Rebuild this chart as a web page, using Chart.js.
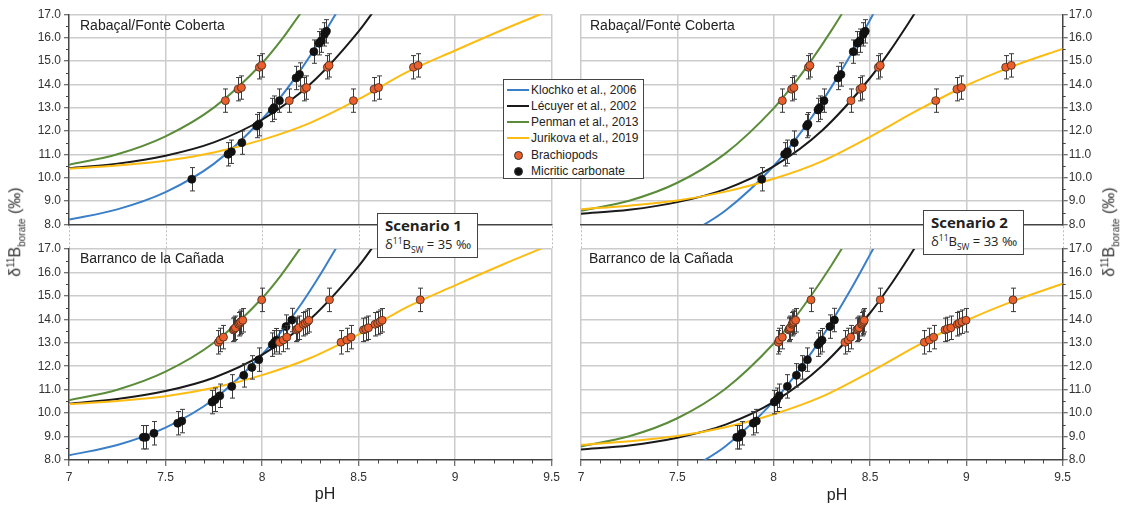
<!DOCTYPE html>
<html>
<head>
<meta charset="utf-8">
<script src="https://cdn.jsdelivr.net/npm/chart.js@4.4.1/dist/chart.umd.min.js"></script>
<style>
  body { margin: 0; width: 1125px; height: 507px; background: #fff; position: relative; overflow: hidden;
         font-family: "Liberation Sans", Arial, sans-serif; color: #222; }
  canvas { position: absolute; }
  .ptitle { position: absolute; font-size: 14px; line-height: 16px; color: #222; white-space: nowrap; }
  .axtitle { position: absolute; font-size: 16px; white-space: nowrap; color: #333; transform: translate(-50%, -50%) rotate(-90deg); }
  .axtitle sup, .axtitle sub { font-size: 10px; }
  .ph { position: absolute; font-size: 16px; transform: translateX(-50%); color: #222; }
  #legend { position: absolute; left: 503px; top: 79px; width: 139px; height: 98px; background: #fff; border: 1px solid #444; }
  .lrow { position: absolute; left: 0; height: 16px; width: 100%; font-size: 12px; line-height: 16px; }
  .lrow span { position: absolute; left: 27px; top: 0; white-space: nowrap; }
  .swatch { position: absolute; left: 3px; top: 7px; width: 22px; height: 2px; }
  .dot { position: absolute; left: 10px; top: 4px; width: 7px; height: 7px; border-radius: 50%; border: 0.8px solid #333; }
  .scen { position: absolute; width: 99px; height: 43px; background: #fff; border: 1px solid #444;
          font-family: "Open Sans", "Noto Sans", sans-serif; color: #222; }
  .scen b { position: absolute; left: 7px; top: 1px; font-size: 15px; white-space: nowrap; }
  .scen div { position: absolute; left: 7px; top: 21px; font-size: 13px; white-space: nowrap; }
  .scen sup, .scen sub { font-size: 8.5px; }
</style>
</head>
<body>
<canvas id="tl" width="565" height="250" style="left:0;top:0"></canvas>
<canvas id="bl" width="565" height="271" style="left:0;top:236px"></canvas>
<canvas id="tr" width="560" height="250" style="left:565px;top:0"></canvas>
<canvas id="br" width="560" height="271" style="left:565px;top:236px"></canvas>

<div class="ptitle" style="left:80px;top:17px">Rabaçal/Fonte Coberta</div>
<div class="ptitle" style="left:80px;top:250px">Barranco de la Cañada</div>
<div class="ptitle" style="left:590px;top:17px">Rabaçal/Fonte Coberta</div>
<div class="ptitle" style="left:589px;top:250px">Barranco de la Cañada</div>

<div class="axtitle" style="left:16px;top:232px">δ<sup>11</sup>B<sub>borate</sub> (‰)</div>
<div class="axtitle" style="left:1110px;top:232px">δ<sup>11</sup>B<sub>borate</sub> (‰)</div>
<div class="ph" style="left:325px;top:485px">pH</div>
<div class="ph" style="left:837px;top:486px">pH</div>

<div id="legend">
  <div class="lrow" style="top:2px"><div class="swatch" style="background:#3a7fc8"></div><span>Klochko et al., 2006</span></div>
  <div class="lrow" style="top:18px"><div class="swatch" style="background:#1a1a1a"></div><span>Lécuyer et al., 2002</span></div>
  <div class="lrow" style="top:34px"><div class="swatch" style="background:#5b8c3a"></div><span>Penman et al., 2013</span></div>
  <div class="lrow" style="top:50px"><div class="swatch" style="background:#fdbc12"></div><span>Jurikova et al., 2019</span></div>
  <div class="lrow" style="top:67px"><div class="dot" style="background:#ea5f2b"></div><span>Brachiopods</span></div>
  <div class="lrow" style="top:83px"><div class="dot" style="background:#111"></div><span>Micritic carbonate</span></div>
</div>

<div class="scen" style="left:377px;top:213px"><b>Scenario 1</b><div>δ<sup>11</sup>B<sub>SW</sub> = 35 ‰</div></div>
<div class="scen" style="left:923px;top:210px"><b>Scenario 2</b><div>δ<sup>11</sup>B<sub>SW</sub> = 33 ‰</div></div>

<script>
// tick labels
const xTickLabels = ['7', '7.5', '8', '8.5', '9', '9.5'];
const yTickLabels = ['8.0', '9.0', '10.0', '11.0', '12.0', '13.0', '14.0', '15.0', '16.0', '17.0'];
const ERR = 0.5; // error bar half length (permil)

// measured d11B of the samples
const rabBrachD11B = [13.30, 13.79, 13.86, 14.73, 14.81];
const rabMicD11B = [9.93, 11.00, 11.11, 11.50, 12.21, 12.29, 12.90, 13.00, 13.30, 14.27, 14.42, 15.40, 15.76, 15.87, 16.14, 16.27];
const barBrachD11B = [13.02, 13.12, 13.24, 13.55, 13.59, 13.64, 13.79, 13.84, 13.90, 13.96, 14.83];
const barMicD11B = [8.97, 8.97, 9.14, 9.57, 9.66, 10.47, 10.57, 10.74, 11.14, 11.61, 11.95, 12.28, 12.92, 13.02, 13.11, 13.69, 13.97];

// pH of the samples, scenario 1 (d11Bsw = 35)
const rabBrachPenmanS1 = [7.81, 7.876, 7.893, 7.986, 7.998];
const rabBrachLecuyerS1 = [8.141, 8.218, 8.23, 8.338, 8.347];
const rabBrachJurikovaS1 = [8.473, 8.58, 8.603, 8.784, 8.808];
const rabMicKlochkoS1 = [7.636, 7.824, 7.841, 7.895, 7.972, 7.983, 8.053, 8.062, 8.09, 8.176, 8.194, 8.268, 8.295, 8.307, 8.323, 8.333];
const barBrachPenmanS1 = [7.774, 7.782, 7.80, 7.851, 7.856, 7.862, 7.879, 7.884, 7.89, 7.90, 7.998];
const barBrachLecuyerS1 = [8.09, 8.11, 8.128, 8.176, 8.183, 8.19, 8.214, 8.224, 8.235, 8.242, 8.349];
const barBrachJurikovaS1 = [8.409, 8.439, 8.461, 8.525, 8.537, 8.551, 8.585, 8.599, 8.611, 8.622, 8.819];
const barMicKlochkoS1 = [7.385, 7.397, 7.44, 7.563, 7.584, 7.741, 7.756, 7.781, 7.843, 7.905, 7.947, 7.983, 8.053, 8.064, 8.074, 8.124, 8.154];

// pH of the samples, scenario 2 (d11Bsw = 33)
const rabBrachPenmanS2 = [8.045, 8.093, 8.105, 8.18, 8.188];
const rabBrachLecuyerS2 = [8.401, 8.448, 8.46, 8.543, 8.553];
const rabBrachJurikovaS2 = [8.841, 8.951, 8.974, 9.204, 9.233];
const rabMicKlochkoS2 = [7.938, 8.057, 8.071, 8.107, 8.171, 8.178, 8.23, 8.239, 8.261, 8.334, 8.349, 8.413, 8.435, 8.448, 8.465, 8.475];
const barBrachPenmanS2 = [8.024, 8.029, 8.045, 8.078, 8.081, 8.086, 8.095, 8.10, 8.104, 8.114, 8.194];
const barBrachLecuyerS2 = [8.37, 8.387, 8.40, 8.431, 8.437, 8.443, 8.457, 8.461, 8.466, 8.47, 8.553];
const barBrachJurikovaS2 = [8.782, 8.808, 8.83, 8.889, 8.901, 8.92, 8.953, 8.963, 8.977, 8.998, 9.242];
const barMicKlochkoS2 = [7.808, 7.82, 7.835, 7.894, 7.91, 8.003, 8.016, 8.029, 8.071, 8.118, 8.147, 8.175, 8.23, 8.24, 8.251, 8.292, 8.315];

// calibration curves, scenario 1
const klochkoS1pH = [7, 7.25, 7.5, 7.75, 8, 8.1, 8.2, 8.3, 8.4];
const klochkoS1 = [8.2, 8.64, 9.38, 10.59, 12.5, 13.49, 14.62, 15.89, 17.27];
const lecuyerS1pH = [7, 7.25, 7.5, 7.75, 8, 8.25, 8.5, 8.6];
const lecuyerS1 = [10.4, 10.6, 10.94, 11.51, 12.48, 14.01, 16.27, 17.39];
const penmanS1pH = [7, 7.25, 7.5, 7.75, 8, 8.1, 8.2, 8.25];
const penmanS1 = [10.55, 11.0, 11.77, 13.0, 14.9, 15.9, 17.05, 17.6];
const jurikovaS1pH = [7, 7.25, 7.5, 7.75, 8, 8.25, 8.5, 8.75, 9, 9.25, 9.5];
const jurikovaS1 = [10.38, 10.52, 10.72, 11.08, 11.62, 12.35, 13.36, 14.52, 15.45, 16.35, 17.2];

// calibration curves, scenario 2
const klochkoS2pH = [7.5, 7.6, 7.75, 8, 8.1, 8.2, 8.3, 8.4, 8.5, 8.55];
const klochkoS2 = [7.38, 7.8, 8.59, 10.5, 11.49, 12.62, 13.89, 15.27, 16.76, 17.52];
const lecuyerS2pH = [7, 7.25, 7.5, 7.75, 8, 8.25, 8.5, 8.6, 8.7, 8.75];
const lecuyerS2 = [8.45, 8.62, 8.95, 9.51, 10.48, 12.01, 14.27, 15.39, 16.63, 17.28];
const penmanS2pH = [7, 7.25, 7.5, 7.75, 8, 8.1, 8.2, 8.3, 8.4];
const penmanS2 = [8.58, 9.01, 9.78, 11.04, 12.97, 13.96, 15.08, 16.31, 17.64];
const jurikovaS2pH = [7, 7.25, 7.5, 7.75, 8, 8.25, 8.5, 8.75, 9, 9.25, 9.5];
const jurikovaS2 = [8.65, 8.8, 9.02, 9.4, 9.95, 10.7, 11.75, 12.9, 13.95, 14.8, 15.52];

const BLUE = '#3a7fc8', BLACK = '#1a1a1a', GREEN = '#5b8c3a', YELLOW = '#fdbc12';
const ORANGE = '#ea5f2b';
const FONT = { family: '"Liberation Sans", Arial, sans-serif', size: 12 };

function pts (xs, ys) {
  return xs.map((x, i) => ({ x: x, y: ys[i] }));
}

function curve (xs, ys, color) {
  return { type: 'line', data: pts(xs, ys), borderColor: color, borderWidth: 2, pointRadius: 0,
    fill: false, cubicInterpolationMode: 'monotone', order: 2 };
}

function samples (xs, ys, fill, border) {
  return { type: 'scatter', data: pts(xs, ys), backgroundColor: fill, borderColor: border,
    borderWidth: 0.8, pointRadius: 4, order: 1, errorBar: ERR };
}

// error bars, minor ticks and the dotted gridlines between the panels
const panelExtras = {
  id: 'panelExtras',
  beforeDatasetDraw (chart, args) {
    const ds = chart.data.datasets[args.index];
    if (!ds.errorBar) return;
    const ctx = chart.ctx;
    const xs = chart.scales.x;
    const ys = chart.scales.y;
    ctx.save();
    ctx.strokeStyle = '#3a3a3a';
    ctx.lineWidth = 1;
    ds.data.forEach(p => {
      const px = Math.round(xs.getPixelForValue(p.x)) + 0.5;
      const top = ys.getPixelForValue(p.y + ds.errorBar);
      const bot = ys.getPixelForValue(p.y - ds.errorBar);
      ctx.beginPath();
      ctx.moveTo(px, top); ctx.lineTo(px, bot);
      ctx.moveTo(px - 2.5, top); ctx.lineTo(px + 2.5, top);
      ctx.moveTo(px - 2.5, bot); ctx.lineTo(px + 2.5, bot);
      ctx.stroke();
    });
    ctx.restore();
  },
  afterDraw (chart, args, opts) {
    const ctx = chart.ctx;
    const a = chart.chartArea;
    const xs = chart.scales.x;
    const ys = chart.scales.y;
    ctx.save();
    ctx.strokeStyle = '#444';
    ctx.lineWidth = 1;
    // y minor ticks at half units
    for (let v = 8.5; v < 17; v += 1) {
      const py = Math.round(ys.getPixelForValue(v)) + 0.5;
      ctx.beginPath();
      if (opts.side === 'left') {
        ctx.moveTo(a.left, py); ctx.lineTo(a.left - 3, py);
      } else {
        ctx.moveTo(a.right, py); ctx.lineTo(a.right + 3, py);
      }
      ctx.stroke();
    }
    if (opts.showX) {
      // x minor ticks every 0.1
      for (let i = 1; i < 25; i++) {
        if (i % 5 === 0) continue;
        const px = Math.round(xs.getPixelForValue(7 + i / 10)) + 0.5;
        ctx.beginPath();
        ctx.moveTo(px, a.bottom); ctx.lineTo(px, a.bottom + 3.5);
        ctx.stroke();
      }
    } else {
      // dotted gridlines in the gap under the upper panels
      ctx.strokeStyle = '#bdbdbd';
      ctx.setLineDash([2, 2]);
      [7, 7.5, 8, 8.5, 9, 9.5].forEach(v => {
        const px = Math.round(xs.getPixelForValue(v)) + 0.5;
        ctx.beginPath();
        ctx.moveTo(px, a.bottom + 2); ctx.lineTo(px, a.bottom + 24);
        ctx.stroke();
      });
    }
    ctx.restore();
  }
};

function makePanel (id, side, showX, datasets, pad, yWidth, xHeight) {
  const gridCol = '#cccccc';
  return new Chart(document.getElementById(id), {
    type: 'scatter',
    data: { datasets: datasets },
    options: {
      responsive: false,
      animation: false,
      events: [],
      layout: { padding: pad },
      plugins: {
        legend: { display: false },
        tooltip: { enabled: false },
        panelExtras: { side: side, showX: showX }
      },
      scales: {
        x: {
          type: 'linear',
          min: 7,
          max: 9.5,
          afterFit: s => { s.height = xHeight; },
          ticks: {
            display: showX,
            stepSize: 0.5,
            autoSkip: false,
            maxRotation: 0,
            padding: 4,
            color: '#333',
            font: FONT,
            callback: (v, i) => xTickLabels[i]
          },
          grid: {
            color: c => {
              const v = c.tick ? c.tick.value : null;
              if (side === 'left' && v === 7) return 'rgba(0,0,0,0)';
              if (side === 'right' && v === 9.5) return 'rgba(0,0,0,0)';
              return gridCol;
            },
            lineWidth: 1.5,
            drawTicks: showX,
            tickLength: 6,
            tickColor: '#444',
            tickWidth: 1
          },
          border: { display: true, color: '#444', width: 1.5 }
        },
        y: {
          type: 'linear',
          position: side,
          min: 8,
          max: 17,
          afterFit: s => { s.width = yWidth; },
          ticks: {
            stepSize: 1,
            padding: side === 'left' ? 3 : 1,
            color: '#333',
            font: FONT,
            callback: (v, i) => yTickLabels[i]
          },
          grid: {
            color: c => (c.tick && c.tick.value === 8 ? 'rgba(0,0,0,0)' : gridCol),
            lineWidth: 1.5,
            tickLength: 5,
            tickColor: '#444',
            tickWidth: 1
          },
          border: { display: true, color: '#444', width: 1.5 }
        }
      }
    },
    plugins: [panelExtras]
  });
}

function curvesS1 () {
  return [
    curve(jurikovaS1pH, jurikovaS1, YELLOW),
    curve(penmanS1pH, penmanS1, GREEN),
    curve(lecuyerS1pH, lecuyerS1, BLACK),
    curve(klochkoS1pH, klochkoS1, BLUE)
  ];
}

function curvesS2 () {
  return [
    curve(jurikovaS2pH, jurikovaS2, YELLOW),
    curve(penmanS2pH, penmanS2, GREEN),
    curve(lecuyerS2pH, lecuyerS2, BLACK),
    curve(klochkoS2pH, klochkoS2, BLUE)
  ];
}

// Rabacal, scenario 1
makePanel('tl', 'left', false, curvesS1().concat([
  samples(rabBrachPenmanS1, rabBrachD11B, ORANGE, '#3a2a20'),
  samples(rabBrachLecuyerS1, rabBrachD11B, ORANGE, '#3a2a20'),
  samples(rabBrachJurikovaS1, rabBrachD11B, ORANGE, '#3a2a20'),
  samples(rabMicKlochkoS1, rabMicD11B, '#111', '#111')
]), { top: 14.3, right: 13.3, bottom: 0, left: 0 }, 69, 25.7);

// Barranco, scenario 1
makePanel('bl', 'left', true, curvesS1().concat([
  samples(barBrachPenmanS1, barBrachD11B, ORANGE, '#3a2a20'),
  samples(barBrachLecuyerS1, barBrachD11B, ORANGE, '#3a2a20'),
  samples(barBrachJurikovaS1, barBrachD11B, ORANGE, '#3a2a20'),
  samples(barMicKlochkoS1, barMicD11B, '#111', '#111')
]), { top: 13, right: 13.3, bottom: 0, left: 0 }, 69, 47);

// Rabacal, scenario 2
makePanel('tr', 'right', false, curvesS2().concat([
  samples(rabBrachPenmanS2, rabBrachD11B, ORANGE, '#3a2a20'),
  samples(rabBrachLecuyerS2, rabBrachD11B, ORANGE, '#3a2a20'),
  samples(rabBrachJurikovaS2, rabBrachD11B, ORANGE, '#3a2a20'),
  samples(rabMicKlochkoS2, rabMicD11B, '#111', '#111')
]), { top: 14.3, right: 0, bottom: 0, left: 16 }, 62.3, 25.7);

// Barranco, scenario 2
makePanel('br', 'right', true, curvesS2().concat([
  samples(barBrachPenmanS2, barBrachD11B, ORANGE, '#3a2a20'),
  samples(barBrachLecuyerS2, barBrachD11B, ORANGE, '#3a2a20'),
  samples(barBrachJurikovaS2, barBrachD11B, ORANGE, '#3a2a20'),
  samples(barMicKlochkoS2, barMicD11B, '#111', '#111')
]), { top: 13, right: 0, bottom: 0, left: 16 }, 62.3, 47);
</script>
</body>
</html>
